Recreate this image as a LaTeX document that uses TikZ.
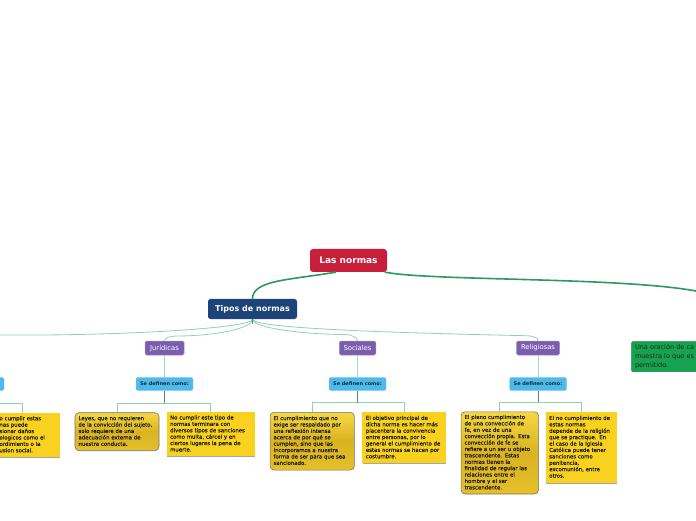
\documentclass[tikz,border=0pt]{standalone}
\usepackage{fontspec}
\setmainfont{DejaVu Sans}
\newfontfamily\yfont[FakeBold=0.35]{DejaVu Sans}
\usetikzlibrary{calc,shadows}
\definecolor{rootred}{HTML}{C8203A}
\definecolor{topicblue}{HTML}{1C4478}
\definecolor{subpurple}{HTML}{7B5DAE}
\definecolor{subborder}{HTML}{9C89C8}
\definecolor{sdblue}{HTML}{4DBAEA}
\definecolor{sdborder}{HTML}{8AD3F2}
\definecolor{yel}{HTML}{F8D21E}
\definecolor{yeltop}{HTML}{F6D842}
\definecolor{yelmid}{HTML}{D9B322}
\definecolor{yelbot}{HTML}{E6C02A}
\definecolor{greenbox}{HTML}{15A34F}
\definecolor{greenborder}{HTML}{0E8A42}
\definecolor{thickgreen}{HTML}{2C9A5C}
\definecolor{thingreen}{HTML}{8ED2AE}
\definecolor{stemgreen}{HTML}{3A9F6A}
\definecolor{txt}{HTML}{1E1B0C}
\definecolor{sdtxt}{HTML}{1A2A3A}
\newcommand{\ylines}[1]{\begin{tabular}{@{}l@{}}#1\end{tabular}}
\newcommand{\cutlines}[1]{\begin{tabular}{@{\hspace{12pt}}l@{}}#1\end{tabular}}
\begin{document}
\begin{tikzpicture}[x=1pt,y=1pt,
  rootbox/.style={fill=rootred, rounded corners=3pt, text=white,
    font=\fontsize{9}{11}\selectfont\bfseries, minimum width=77pt, minimum height=23pt, inner sep=0pt},
  topicbox/.style={fill=topicblue, rounded corners=2.5pt, text=white,
    font=\fontsize{8}{10}\selectfont\bfseries, minimum width=89pt, minimum height=20pt, inner sep=0pt},
  subbox/.style={fill=subpurple, draw=subborder, line width=0.5pt, rounded corners=1.5pt, text=white,
    font=\fontsize{6.8}{8}\selectfont, minimum height=14pt, inner sep=0pt},
  sdbox/.style={fill=sdblue, draw=sdborder, line width=0.4pt, rounded corners=1.5pt, text=sdtxt,
    font=\fontsize{5}{6}\selectfont\bfseries, minimum width=57pt, minimum height=13.4pt, inner sep=0pt},
  yround/.style={draw=black!55, line width=0.6pt, rounded corners=4pt,
    top color=yeltop, bottom color=yelbot, middle color=yelmid, text=txt, align=left,
    font=\yfont\fontsize{5.4}{6.4}\selectfont, inner xsep=3.5pt, inner ysep=0pt},
  yflat/.style={fill=yel, text=txt, align=left,
    general shadow={fill=black!35, shadow xshift=0.4pt, shadow yshift=-0.8pt},
    font=\yfont\fontsize{5.4}{6.4}\selectfont, inner xsep=3.5pt, inner ysep=0pt},
  gbox/.style={fill=greenbox, draw=greenborder, line width=0.5pt, rounded corners=1pt, text=black!85,
    align=left, font=\fontsize{6.5}{9}\selectfont, inner xsep=3.3pt, inner ysep=0pt},
  thicklink/.style={draw=thickgreen, line width=1.6pt, line cap=round},
  twig/.style={draw=thingreen, line width=0.8pt},
  pale/.style={draw=thingreen!85!white, line width=0.8pt},
  stemline/.style={draw=stemgreen, line width=0.9pt}
]
\useasboundingbox (0,0) rectangle (696,520);
\fill[white] (0,0) rectangle (696,520);

% main nodes
\node[rootbox] (root) at (348.5,259.5) {Las normas};
\node[topicbox] (tipos) at (252.5,211) {Tipos de normas};

\node[subbox, minimum width=39pt] (jur) at (164.5,172) {Jurídicas};
\node[subbox, minimum width=36.5pt] (soc) at (357.5,172) {Sociales};
\node[subbox, minimum width=43pt] (rel) at (538,172) {Religiosas};

\node[sdbox] (sdjur) at (164.5,136) {Se definen como:};
\node[sdbox] (sdsoc) at (357.5,136) {Se definen como:};
\node[sdbox] (sdrel) at (538,136) {Se definen como:};
\node[sdbox] (sdleft) at (-24.5,136) {};

% yellow boxes
\node[yround, text width=77pt, minimum height=38pt] (jl) at (117,88.3) {\ylines{%
Leyes, que no requieren\\de la convicción del sujeto,\\solo requiere de una\\adecuación externa de\\nuestra conducta.}};
\node[yflat, text width=81.3pt, minimum height=43.7pt] (jr) at (210.8,85.8) {\ylines{%
No cumplir este tipo de\\normas terminara con\\diversos tipos de sanciones\\como multa, cárcel y en\\ciertos lugares la pena de\\muerte.}};
\node[yround, text width=77.3pt, minimum height=57.7pt] (sl) at (312.2,78.8) {\ylines{%
El cumplimiento que no\\exige ser respaldado por\\una reflexión intensa\\acerca de por qué se\\cumplen, sino que las\\incorporamos a nuestra\\forma de ser para que sea\\sancionado.}};
\node[yflat, text width=76.7pt, minimum height=51pt] (sr) at (404.2,82.2) {\ylines{%
El objetivo principal de\\dicha norma es hacer más\\placentera la convivencia\\entre personas, por lo\\general el cumplimiento de\\estas normas se hacen por\\costumbre.}};
\node[yround, text width=70.5pt, minimum height=82.2pt] (rl) at (499.8,67.1) {\ylines{%
El pleno cumplimiento\\de una convección de\\fe, en vez de una\\convección propia. Esta\\convección de fe se\\refiere a un ser u objeto\\trascendente. Estas\\normas tienen la\\finalidad de regular las\\relaciones entre el\\hombre y el ser\\trascendente.}};
\node[yflat, text width=64pt, minimum height=70.4pt] (rr) at (581.2,72.5) {\ylines{%
El no cumplimiento de\\estas normas\\depende de la religión\\que se practique. En\\el caso de la Iglesia\\Católica puede tener\\sanciones como\\penitencia,\\excomunión, entre\\otros.}};
\node[yflat, text width=69pt, minimum height=44.6pt] (lc) at (22,85) {\cutlines{%
o cumplir estas\\nas puede\\sionar daños\\ologicos como el\\ordimiento o la\\usion social.}};

% green box at right edge
\node[gbox, text width=101.7pt, minimum height=30pt] (green) at (685.85,163.3) {\ylines{%
Una oración de ca\\muestra lo que es\\permitido.}};

% connectors
\coordinate (rightend) at (696,229);
\coordinate (leftend) at (0,185);
\draw[thicklink] ($(root.south)+(-13,0)$) .. controls (290,240) and (252.5,240) .. (tipos.north);
\draw[thicklink] ($(root.south east)+(-2,0)$) .. controls (430,239) and (620,243) .. (rightend);

\draw[twig] (tipos.south) .. controls +(0,-9) and +(120,-1) .. (leftend);
\draw[twig] (tipos.south) .. controls +(0,-9) and +(40,0) .. (176.5,184) .. controls +(-6,0) and +(0,3) .. (jur.north);
\draw[twig] (tipos.south) .. controls +(0,-9) and +(-40,0) .. (345.5,185.5) .. controls +(6,0) and +(0,3) .. (soc.north);
\draw[twig] (tipos.south) .. controls +(0,-9) and +(-140,3) .. (526,184.3) .. controls +(7,0) and +(0,3) .. (rel.north);
\draw[stemline] (tipos.south) -- ++(0,-5);

\draw[pale] (jur.south) -- (sdjur.north);
\draw[pale] (soc.south) -- (sdsoc.north);
\draw[pale] (rel.south) -- (sdrel.north);

\coordinate (jbar) at ($(jl.north)+(0,9.4)$);
\coordinate (sbar) at ($(sl.north)+(0,9.4)$);
\coordinate (rbar) at ($(rl.north)+(0,9.4)$);
\coordinate (lbar) at (0,116.7);

\draw[twig] (jl.north) -- (jbar) -| (jr.north);
\draw[twig] (sl.north) -- (sbar) -| (sr.north);
\draw[twig] (rl.north) -- (rbar) -| (rr.north);
\draw[twig] (lc.north) |- (lbar);

\draw[stemline] (sdjur.south) -- (sdjur.south |- jbar);
\draw[stemline] (sdsoc.south) -- (sdsoc.south |- sbar);
\draw[stemline] (sdrel.south) -- (sdrel.south |- rbar);
\end{tikzpicture}
\end{document}
